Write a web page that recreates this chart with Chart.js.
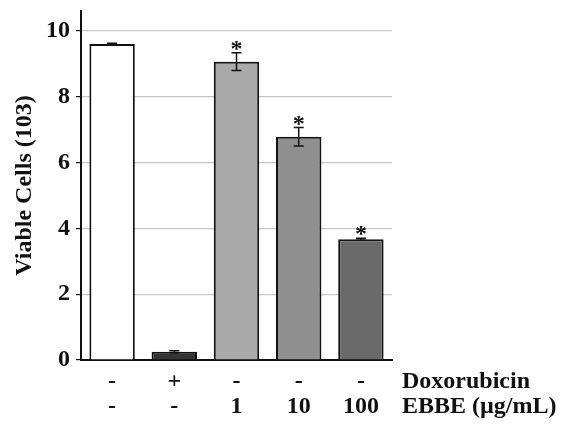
<!DOCTYPE html>
<html>
<head>
<meta charset="utf-8">
<script src="https://cdn.jsdelivr.net/npm/chart.js@4"></script>
<style>
html,body{margin:0;padding:0;background:#fff;}
#wrap{width:564px;height:428px;}
</style>
</head>
<body>
<div id="wrap"><canvas id="chart" width="564" height="428"></canvas></div>
<script>
// Viable cells — bar chart with SEM error bars
const doxLabels = ['-', '+', '-', '-', '-'];
const ebbeLabels = ['-', '-', '1', '10', '100'];
const rowNames = ['Doxorubicin', 'EBBE (\u00b5g/mL)'];
const yTicks = [0, 2, 4, 6, 8, 10];
const cells = [9.6, 0.25, 9.06, 6.78, 3.67];
const errs = [0.02, 0.03, 0.27, 0.28, 0.03];
const stars = ['', '', '*', '*', '*'];
const barColors = ['#ffffff', '#343434', '#aaaaaa', '#8f8f8f', '#6a6a6a'];

const FONT = '"Liberation Serif", "Times New Roman", serif';

const errPlugin = {
    id: 'errBars',
    afterDatasetsDraw(chart) {
        const {ctx, scales: {x, y}} = chart;
        ctx.save();
        ctx.strokeStyle = '#111';
        ctx.lineWidth = 1.5;
        cells.forEach((v, i) => {
            const cx = x.getPixelForValue(i);
            const yt = y.getPixelForValue(v + errs[i]);
            const yb = y.getPixelForValue(v - errs[i]);
            ctx.beginPath();
            ctx.moveTo(cx, yt); ctx.lineTo(cx, yb);
            ctx.moveTo(cx - 5, yt); ctx.lineTo(cx + 5, yt);
            ctx.moveTo(cx - 5, yb); ctx.lineTo(cx + 5, yb);
            ctx.stroke();
            if (stars[i]) {
                ctx.fillStyle = '#111';
                ctx.font = 'bold 24px ' + FONT;
                ctx.textAlign = 'center';
                ctx.textBaseline = 'alphabetic';
                ctx.fillText(stars[i], cx, yt + 3);
            }
        });
        ctx.restore();
    },
    afterDraw(chart) {
        const {ctx, chartArea} = chart;
        ctx.save();
        ctx.fillStyle = '#111';
        ctx.font = 'bold 24px ' + FONT;
        ctx.textAlign = 'left';
        ctx.textBaseline = 'middle';
        ctx.fillText(rowNames[0], chartArea.right + 10, chartArea.bottom + 22);
        ctx.fillText(rowNames[1], chartArea.right + 10, chartArea.bottom + 47);
        ctx.restore();
    }
};

new Chart(document.getElementById('chart'), {
    type: 'bar',
    data: {
        labels: doxLabels.map((d, i) => [d, ebbeLabels[i]]),
        datasets: [{
            data: cells,
            backgroundColor: barColors,
            borderColor: '#111',
            borderWidth: 2,
            categoryPercentage: 1,
            barPercentage: 0.73
        }]
    },
    options: {
        responsive: false,
        animation: false,
        layout: {padding: {top: 11, right: 172, left: 0, bottom: 0}},
        plugins: {legend: {display: false}, tooltip: {enabled: false}},
        scales: {
            x: {
                grid: {display: false, drawTicks: false},
                border: {color: '#111', width: 2},
                ticks: {color: '#111', padding: 9, font: {family: FONT, size: 24, weight: 'bold', lineHeight: 1.04}, maxRotation: 0},
                afterFit: s => { s.height = 68; }
            },
            y: {
                min: 0, max: 10.6,
                afterBuildTicks: s => { s.ticks = yTicks.map(v => ({value: v})); },
                grid: {color: '#c6c6c6', lineWidth: 1.2, tickColor: '#111', tickLength: 5},
                border: {color: '#111', width: 2},
                ticks: {color: '#111', padding: 6, font: {family: FONT, size: 24, weight: 'bold'}},
                title: {display: true, text: 'Viable Cells (103)', color: '#111', padding: {top: 10, bottom: 0}, font: {family: FONT, size: 24, weight: 'bold'}},
                afterFit: s => { s.width = 81; s.paddingTop = 0; s.paddingBottom = 0; }
            }
        }
    },
    plugins: [errPlugin]
});
</script>
</body>
</html>
